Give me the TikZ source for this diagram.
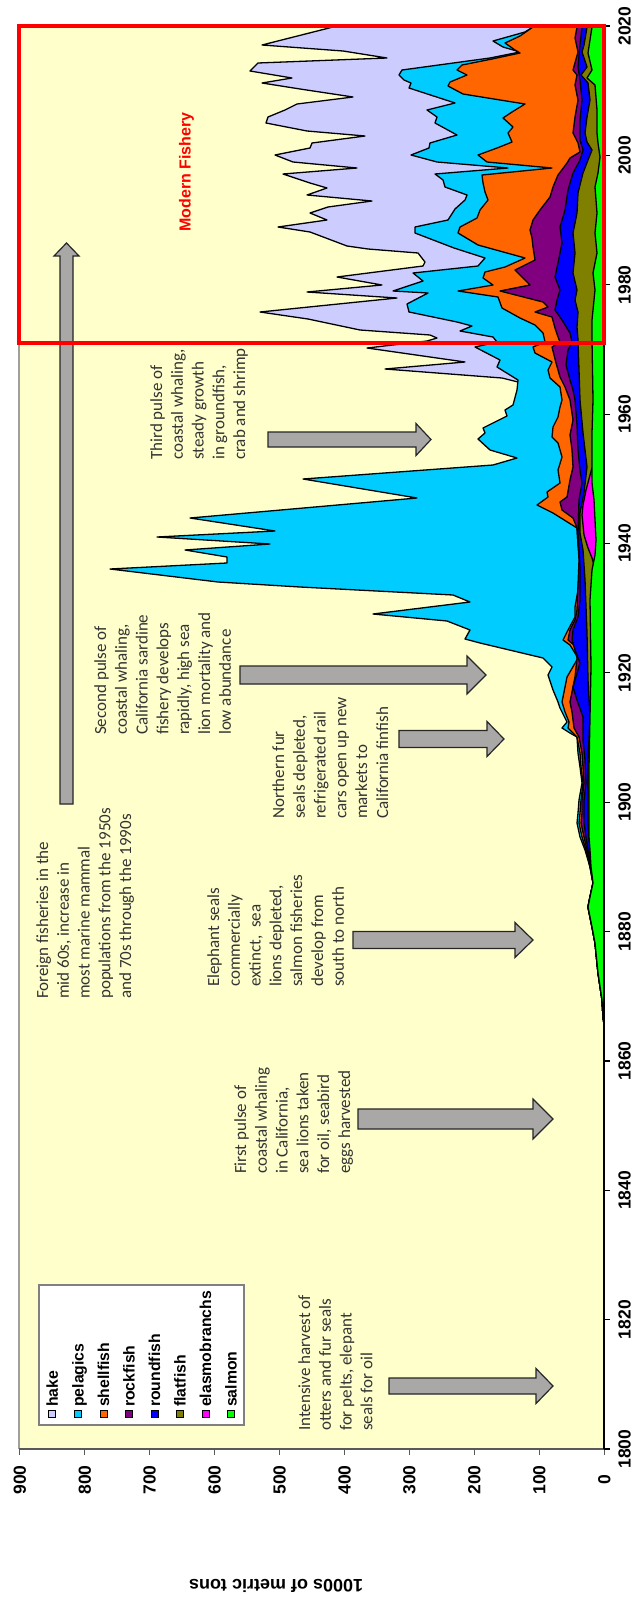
\documentclass[tikz,border=0pt]{standalone}
\usepackage{fontspec}
\setmainfont{Liberation Sans}
\newfontfamily\calib{Carlito}
\definecolor{plotbg}{RGB}{255,255,204}
\definecolor{hakec}{RGB}{204,204,255}
\definecolor{pelc}{RGB}{0,204,255}
\definecolor{shellc}{RGB}{255,102,0}
\definecolor{rockc}{RGB}{128,0,128}
\definecolor{roundc}{RGB}{0,0,255}
\definecolor{flatc}{RGB}{128,128,0}
\definecolor{elasc}{RGB}{255,0,255}
\definecolor{salc}{RGB}{0,255,0}
\definecolor{arrowc}{RGB}{170,167,167}
\tikzset{
  layer/.style={draw=black, line width=1.3pt, line join=round},
  arrowbox/.style={fill=arrowc, draw=black!85, line width=1.2pt, line join=miter},
  note/.style={rotate=90, anchor=north west, inner sep=0pt, align=left, text=black!80,
     font=\calib\fontsize{17}{20.8}\selectfont},
  legtxt/.style={rotate=90, anchor=base west, inner sep=0pt, font=\bfseries\fontsize{15.8}{18}\selectfont},
  legbox/.style={draw=black, line width=0.8pt},
  ticklab/.style={rotate=90, inner sep=0pt, font=\bfseries\fontsize{17.5}{20}\selectfont}
}
\newcommand{\blockR}[6]{%
  \filldraw[arrowbox] (#1,#4-#5) -- (#2,#4-#5) -- (#2,#4-#6) -- (#3,#4) -- (#2,#4+#6) -- (#2,#4+#5) -- (#1,#4+#5) -- cycle;}
\begin{document}
\begin{tikzpicture}[x=1pt,y=-1pt]
\useasboundingbox (0,0) rectangle (632,1600);
\fill[white] (0,0) rectangle (632,1600);
\fill[plotbg] (19,26) rectangle (604,1449);
\draw[gray!75, line width=2pt] (19,26) -- (19,1449);

% hake (total)
\filldraw[layer, fill=hakec] (333,27) -- (262,45) -- (343,51) -- (387,58) -- (258,63) -- (250,71) -- (292,78) -- (262,83) -- (300,89) -- (353,97) -- (297,104) -- (285,110) -- (268,117) -- (266,123) -- (307,131) -- (365,136) -- (312,143) -- (310,148) -- (275,155) -- (293,162) -- (357,168) -- (283,174) -- (310,183) -- (327,188) -- (307,195) -- (372,201) -- (328,207) -- (310,213) -- (327,220) -- (278,227) -- (310,232) -- (347,246) -- (368,249) -- (418,253) -- (425,262) -- (423,266) -- (337,277) -- (382,285) -- (307,292) -- (397,298) -- (260,312) -- (308,319) -- (360,330) -- (430,335) -- (437,338) -- (427,341) -- (367,348) -- (465,362) -- (385,369) -- (502,378) -- (518,382) -- (604,382) -- (604,27) -- cycle;
% pelagics
\filldraw[layer, fill=pelc] (533,27) -- (525,32) -- (493,41) -- (503,47) -- (520,52) -- (490,58) -- (402,70) -- (399,75) -- (404,80) -- (411,83) -- (409,88) -- (455,103) -- (427,110) -- (437,117) -- (435,123) -- (457,135) -- (430,143) -- (429,148) -- (411,155) -- (437,162) -- (508,168) -- (435,174) -- (443,180) -- (445,187) -- (467,195) -- (465,200) -- (455,209) -- (448,220) -- (415,227) -- (415,233) -- (454,248) -- (485,258) -- (478,266) -- (413,273) -- (423,281) -- (393,291) -- (428,293) -- (407,304) -- (409,312) -- (457,322) -- (472,326) -- (460,331) -- (493,337) -- (497,342) -- (475,347) -- (500,360) -- (497,367) -- (518,380) -- (517,390) -- (513,405) -- (505,410) -- (507,416) -- (483,428) -- (485,433) -- (478,439) -- (490,450) -- (517,458) -- (493,465) -- (303,479) -- (417,498) -- (190,518) -- (275,531) -- (157,537) -- (270,544) -- (185,550) -- (227,557) -- (227,563) -- (110,569) -- (218,582) -- (300,587) -- (453,595) -- (470,602) -- (373,614) -- (447,621) -- (470,630) -- (465,639) -- (480,643) -- (543,658) -- (552,667) -- (548,675) -- (553,690) -- (558,702) -- (560,708) -- (567,722) -- (562,728) -- (570,733) -- (577,737) -- (578,753) -- (580,767) -- (582,783) -- (579,800) -- (578,813) -- (577,823) -- (580,837) -- (585,850) -- (590,867) -- (593,883) -- (590,897) -- (588,907) -- (592,927) -- (595,943) -- (598,973) -- (602,1000) -- (603,1017) -- (604,1024) -- (604,27) -- cycle;
% shellfish
\filldraw[layer, fill=shellc] (533,27) -- (520,36) -- (505,43) -- (515,50) -- (520,53) -- (492,59) -- (462,65) -- (457,70) -- (467,75) -- (450,82) -- (448,86) -- (463,94) -- (525,104) -- (512,112) -- (503,118) -- (513,127) -- (508,133) -- (512,142) -- (497,148) -- (478,155) -- (487,162) -- (552,168) -- (482,175) -- (483,183) -- (485,192) -- (488,200) -- (480,210) -- (477,218) -- (460,227) -- (458,233) -- (478,245) -- (525,258) -- (505,267) -- (485,272) -- (483,278) -- (493,285) -- (458,291) -- (498,297) -- (502,308) -- (520,318) -- (535,325) -- (543,333) -- (545,342) -- (533,347) -- (535,353) -- (552,362) -- (548,370) -- (550,378) -- (560,387) -- (562,400) -- (560,407) -- (558,417) -- (553,427) -- (552,437) -- (558,443) -- (562,457) -- (558,470) -- (560,483) -- (547,492) -- (548,497) -- (537,505) -- (553,513) -- (577,528) -- (578,545) -- (580,560) -- (578,590) -- (575,607) -- (575,617) -- (568,630) -- (563,640) -- (570,645) -- (578,658) -- (567,677) -- (562,702) -- (565,712) -- (569,722) -- (568,728) -- (577,737) -- (580,753) -- (581,767) -- (583,783) -- (581,800) -- (580,813) -- (579,823) -- (582,837) -- (586,850) -- (590,867) -- (593,883) -- (590,897) -- (588,907) -- (592,927) -- (595,943) -- (598,973) -- (602,1000) -- (603,1017) -- (604,1024) -- (604,27) -- cycle;
% rockfish
\filldraw[layer, fill=rockc] (577,27) -- (575,38) -- (578,52) -- (573,70) -- (577,75) -- (575,85) -- (578,100) -- (575,117) -- (573,133) -- (578,143) -- (580,152) -- (570,158) -- (567,163) -- (558,175) -- (553,187) -- (550,197) -- (540,210) -- (533,220) -- (530,230) -- (532,238) -- (533,247) -- (535,260) -- (515,270) -- (530,285) -- (500,291) -- (543,302) -- (548,307) -- (535,312) -- (552,317) -- (555,328) -- (558,337) -- (560,342) -- (552,347) -- (556,363) -- (560,377) -- (565,387) -- (570,400) -- (573,420) -- (570,435) -- (572,450) -- (573,467) -- (570,480) -- (567,497) -- (560,502) -- (562,510) -- (573,518) -- (577,528) -- (579,560) -- (577,610) -- (575,620) -- (570,630) -- (568,640) -- (574,645) -- (577,658) -- (575,677) -- (570,702) -- (572,712) -- (574,728) -- (579,737) -- (582,753) -- (583,767) -- (584,783) -- (582,800) -- (582,813) -- (581,823) -- (584,837) -- (587,850) -- (590,867) -- (593,883) -- (590,897) -- (588,907) -- (592,927) -- (595,943) -- (598,973) -- (602,1000) -- (603,1017) -- (604,1024) -- (604,27) -- cycle;
% roundfish
\filldraw[layer, fill=roundc] (582,27) -- (580,45) -- (578,67) -- (580,80) -- (582,100) -- (580,120) -- (580,140) -- (583,150) -- (580,160) -- (573,173) -- (568,190) -- (565,210) -- (560,227) -- (562,243) -- (558,263) -- (555,277) -- (560,290) -- (557,300) -- (555,310) -- (562,320) -- (570,333) -- (572,342) -- (568,350) -- (566,365) -- (570,380) -- (573,390) -- (575,400) -- (577,425) -- (578,450) -- (580,470) -- (582,483) -- (579,500) -- (578,533) -- (580,567) -- (580,600) -- (578,617) -- (573,630) -- (572,640) -- (575,650) -- (580,663) -- (573,687) -- (577,700) -- (583,717) -- (583,740) -- (585,760) -- (586,783) -- (584,800) -- (584,823) -- (586,837) -- (588,850) -- (591,867) -- (593,883) -- (590,897) -- (588,907) -- (592,927) -- (595,943) -- (598,973) -- (602,1000) -- (603,1017) -- (604,1024) -- (604,27) -- cycle;
% flatfish
\filldraw[layer, fill=flatc] (587,27) -- (584,45) -- (582,52) -- (587,67) -- (581,75) -- (588,83) -- (590,100) -- (587,117) -- (585,133) -- (587,142) -- (592,150) -- (588,160) -- (583,173) -- (578,193) -- (577,213) -- (573,233) -- (575,253) -- (573,273) -- (577,290) -- (575,300) -- (578,312) -- (577,327) -- (578,340) -- (579,370) -- (580,400) -- (583,433) -- (587,467) -- (584,493) -- (580,513) -- (580,533) -- (583,550) -- (585,580) -- (587,633) -- (588,680) -- (590,717) -- (588,760) -- (588,800) -- (588,823) -- (589,837) -- (590,850) -- (591,867) -- (593,883) -- (590,897) -- (588,907) -- (592,927) -- (595,943) -- (598,973) -- (602,1000) -- (603,1017) -- (604,1024) -- (604,27) -- cycle;
% elasmobranchs
\filldraw[layer, fill=elasc] (592,468) -- (590,475) -- (586,490) -- (583,505) -- (582,515) -- (583,525) -- (584,535) -- (588,548) -- (592,558) -- (594,565) -- (604,565) -- (604,468) -- cycle;
% salmon
\filldraw[layer, fill=salc] (592,27) -- (588,53) -- (592,70) -- (587,78) -- (595,85) -- (597,110) -- (597,133) -- (598,143) -- (600,157) -- (598,173) -- (595,187) -- (597,213) -- (595,233) -- (597,253) -- (593,273) -- (595,290) -- (592,320) -- (592,340) -- (593,400) -- (592,433) -- (592,483) -- (594,500) -- (595,520) -- (596,540) -- (595,555) -- (592,570) -- (590,600) -- (591,667) -- (590,717) -- (589,767) -- (589,800) -- (589,837) -- (590,850) -- (591,867) -- (593,883) -- (590,897) -- (588,907) -- (592,927) -- (595,943) -- (598,973) -- (602,1000) -- (603,1017) -- (604,1024) -- (604,27) -- cycle;

% axes
\draw[black!65, line width=1.5pt] (19,1449) -- (604,1449);
\draw[black, line width=1.5pt] (604,26) -- (604,1449);
\foreach \v in {0,100,...,900} {
  \pgfmathsetmacro\xx{604.3-0.6494*\v}
  \draw[black!65, line width=1.2pt] (\xx,1449) -- (\xx,1455);
  \node[ticklab] (vl\v) at (\xx,1480) {\v};
}
\foreach \yr in {1800,1820,...,2020} {
  \pgfmathsetmacro\yy{1449-(\yr-1800)*6.468}
  \draw[black, line width=1.2pt] (604,\yy) -- (610,\yy);
  \node[ticklab] (yl\yr) at (624.5,\yy) {\yr};
}
\node[rotate=180, inner sep=0pt, font=\bfseries\fontsize{18}{20}\selectfont] (ytitle) at (276,1586) {1000s of metric tons};

% legend
\filldraw[fill=white, draw=gray, line width=1.3pt] (39,1285) rectangle (244,1425);
\foreach \mx/\col/\lab [count=\i] in {52.3/hakec/hake, 78/pelc/pelagics, 103.5/shellc/shellfish, 129/rockc/rockfish, 154.5/roundc/roundfish, 180/flatc/flatfish, 205.7/elasc/elasmobranchs, 231/salc/salmon} {
  \filldraw[legbox, fill=\col] (\mx-3.5,1410) rectangle (\mx+3.5,1417);
  \node[legtxt] (leg\i) at (\mx+5.5,1407) {\lab};
}

% arrows
\blockR{389}{536}{553}{1386}{8}{17.5}
\blockR{358}{533}{553}{1119}{10}{20}
\blockR{353}{515}{533}{940}{8.5}{17.5}
\blockR{399}{487}{504}{739}{8.5}{17.5}
\blockR{240}{467}{486}{675}{9}{19}
\blockR{268}{416}{431}{439.5}{7.5}{16}
\filldraw[arrowbox] (60,804) -- (73,804) -- (73,256) -- (79,256) -- (66.5,243) -- (54,256) -- (60,256) -- cycle;

% notes
\node[note] (n1) at (298,1431) {Intensive harvest of\\otters and fur seals\\for pelts, elepant\\seals for oil};
\node[note] (n2) at (234,1174) {First pulse of\\coastal whaling\\in California,\\sea lions taken\\for oil, seabird\\eggs harvested};
\node[note] (n3) at (207,987) {Elephant seals\\commercially\\extinct,~ sea\\lions depleted,\\salmon fisheries\\develop from\\south to north};
\node[note] (n4) at (272,819) {Northern fur\\seals depleted,\\refrigerated rail\\cars open up new\\markets to\\California finfish};
\node[note] (n5) at (94,735) {Second pulse of\\coastal whaling,\\California sardine\\fishery develops\\rapidly, high sea\\lion mortality and\\low abundance};
\node[note] (n6) at (150,460) {Third pulse of\\coastal whaling,\\steady growth\\in groundfish,\\crab and shrimp};
\node[note] (n7) at (36,999) {Foreign fisheries in the\\mid 60s, increase in\\most marine mammal\\populations from the 1950s\\and 70s through the 1990s};

% modern fishery box
\draw[red, line width=3.5pt] (19,26) rectangle (604,343);
\node[rotate=90, inner sep=0pt, text=red, font=\bfseries\fontsize{16}{19}\selectfont] (modern) at (186.5,172) {Modern Fishery};
\end{tikzpicture}
\end{document}
